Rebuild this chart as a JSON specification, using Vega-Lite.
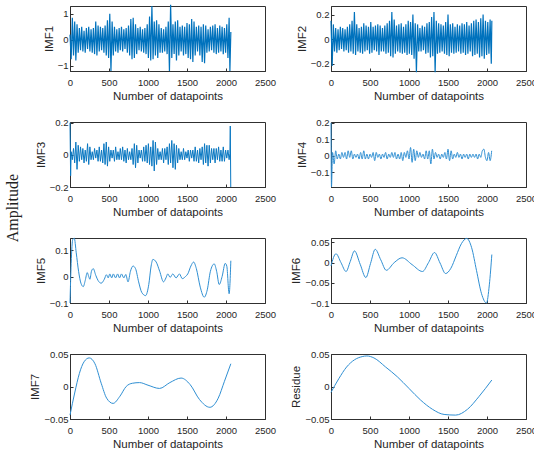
{
"$schema":"https://vega.github.io/schema/vega-lite/v6.json",
"padding":{"left":5,"top":1,"right":2,"bottom":2},
"title":{"text":"Amplitude","orient":"left","font":"Liberation Serif","fontSize":16,"fontWeight":"normal","color":"#222222","anchor":"middle","offset":8,"dx":18},
"config":{
 "view":{"stroke":"#303030","strokeWidth":1},
 "axis":{"labelFont":"Liberation Sans","labelFontSize":9.5,"labelColor":"#262626","titleFont":"Liberation Sans","titleFontSize":11.5,"titleFontWeight":"normal","titleColor":"#262626","grid":false,"domainColor":"#303030","tickColor":"#303030","tickSize":-3,"labelOverlap":false,"labelFlush":false},
 "axisX":{"labelPadding":9,"titlePadding":4},
 "axisY":{"labelPadding":5,"titlePadding":3},
 "line":{"strokeWidth":1,"clip":true}
},
"datasets":{
"d1":[{"x":0,"y":0.2},{"x":15,"y":-0.75},{"x":30,"y":0.85},{"x":45,"y":-0.6},{"x":60,"y":0.7},{"x":75,"y":-0.8},{"x":90,"y":0.6},{"x":105,"y":-0.5},{"x":120,"y":0.45},{"x":135,"y":-0.4},{"x":150,"y":0.5},{"x":165,"y":-0.45},{"x":180,"y":0.35},{"x":195,"y":-0.5},{"x":210,"y":0.45},{"x":225,"y":-0.35},{"x":240,"y":0.5},{"x":255,"y":-0.45},{"x":270,"y":0.4},{"x":285,"y":-0.5},{"x":300,"y":0.45},{"x":315,"y":-0.55},{"x":330,"y":0.7},{"x":345,"y":-0.6},{"x":360,"y":0.55},{"x":375,"y":-0.45},{"x":390,"y":0.5},{"x":405,"y":-0.4},{"x":420,"y":0.45},{"x":435,"y":-0.5},{"x":450,"y":0.55},{"x":465,"y":-0.6},{"x":480,"y":0.75},{"x":495,"y":-0.7},{"x":510,"y":1.0},{"x":525,"y":-1.2},{"x":540,"y":0.7},{"x":555,"y":-0.6},{"x":570,"y":0.5},{"x":585,"y":-0.45},{"x":600,"y":0.4},{"x":615,"y":-0.5},{"x":630,"y":0.45},{"x":645,"y":-0.4},{"x":660,"y":0.5},{"x":675,"y":-0.45},{"x":690,"y":0.4},{"x":705,"y":-0.35},{"x":720,"y":0.45},{"x":735,"y":-0.5},{"x":750,"y":0.55},{"x":765,"y":-0.6},{"x":780,"y":0.8},{"x":795,"y":-0.75},{"x":810,"y":0.85},{"x":825,"y":-0.7},{"x":840,"y":0.6},{"x":855,"y":-0.55},{"x":870,"y":0.45},{"x":885,"y":-0.4},{"x":900,"y":0.5},{"x":915,"y":-0.45},{"x":930,"y":0.4},{"x":945,"y":-0.5},{"x":960,"y":0.45},{"x":975,"y":-0.55},{"x":990,"y":0.6},{"x":1005,"y":-0.7},{"x":1020,"y":0.9},{"x":1035,"y":-0.8},{"x":1050,"y":1.3},{"x":1065,"y":-0.75},{"x":1080,"y":0.7},{"x":1095,"y":-0.6},{"x":1110,"y":0.75},{"x":1125,"y":-0.7},{"x":1140,"y":0.6},{"x":1155,"y":-0.5},{"x":1170,"y":0.45},{"x":1185,"y":-0.5},{"x":1200,"y":0.4},{"x":1215,"y":-0.45},{"x":1230,"y":0.5},{"x":1245,"y":-0.55},{"x":1260,"y":0.7},{"x":1275,"y":-1.2},{"x":1290,"y":1.35},{"x":1305,"y":-0.7},{"x":1320,"y":0.6},{"x":1335,"y":-0.55},{"x":1350,"y":0.7},{"x":1365,"y":-0.8},{"x":1380,"y":0.75},{"x":1395,"y":-0.6},{"x":1410,"y":0.5},{"x":1425,"y":-0.45},{"x":1440,"y":0.55},{"x":1455,"y":-0.6},{"x":1470,"y":0.5},{"x":1485,"y":-0.55},{"x":1500,"y":0.65},{"x":1515,"y":-0.7},{"x":1530,"y":0.6},{"x":1545,"y":-0.75},{"x":1560,"y":0.8},{"x":1575,"y":-0.85},{"x":1590,"y":0.7},{"x":1605,"y":-0.6},{"x":1620,"y":0.5},{"x":1635,"y":-0.45},{"x":1650,"y":0.55},{"x":1665,"y":-0.6},{"x":1680,"y":0.5},{"x":1695,"y":-0.85},{"x":1710,"y":0.6},{"x":1725,"y":-0.9},{"x":1740,"y":0.55},{"x":1755,"y":-0.5},{"x":1770,"y":0.4},{"x":1785,"y":-0.45},{"x":1800,"y":0.5},{"x":1815,"y":-0.4},{"x":1830,"y":0.55},{"x":1845,"y":-0.5},{"x":1860,"y":0.6},{"x":1875,"y":-0.55},{"x":1890,"y":0.45},{"x":1905,"y":-0.5},{"x":1920,"y":0.55},{"x":1935,"y":-0.45},{"x":1950,"y":0.5},{"x":1965,"y":-0.55},{"x":1980,"y":0.45},{"x":1995,"y":-0.5},{"x":2010,"y":0.6},{"x":2025,"y":-0.7},{"x":2040,"y":0.85},{"x":2050,"y":-1.2},{"x":2062,"y":0.3}],
"d2":[{"x":0,"y":0.15},{"x":15,"y":-0.22},{"x":30,"y":0.12},{"x":45,"y":-0.1},{"x":60,"y":0.09},{"x":75,"y":-0.11},{"x":90,"y":0.08},{"x":105,"y":-0.09},{"x":120,"y":0.1},{"x":135,"y":-0.08},{"x":150,"y":0.09},{"x":165,"y":-0.1},{"x":180,"y":0.08},{"x":195,"y":-0.09},{"x":210,"y":0.1},{"x":225,"y":-0.11},{"x":240,"y":0.12},{"x":255,"y":-0.1},{"x":270,"y":0.15},{"x":285,"y":-0.12},{"x":300,"y":0.22},{"x":315,"y":-0.13},{"x":330,"y":0.12},{"x":345,"y":-0.1},{"x":360,"y":0.09},{"x":375,"y":-0.11},{"x":390,"y":0.1},{"x":405,"y":-0.12},{"x":420,"y":0.13},{"x":435,"y":-0.1},{"x":450,"y":0.11},{"x":465,"y":-0.09},{"x":480,"y":0.1},{"x":495,"y":-0.12},{"x":510,"y":0.14},{"x":525,"y":-0.11},{"x":540,"y":0.1},{"x":555,"y":-0.09},{"x":570,"y":0.11},{"x":585,"y":-0.1},{"x":600,"y":0.12},{"x":615,"y":-0.13},{"x":630,"y":0.11},{"x":645,"y":-0.1},{"x":660,"y":0.09},{"x":675,"y":-0.1},{"x":690,"y":0.11},{"x":705,"y":-0.12},{"x":720,"y":0.13},{"x":735,"y":-0.11},{"x":750,"y":0.15},{"x":765,"y":-0.14},{"x":780,"y":0.22},{"x":795,"y":-0.15},{"x":810,"y":0.16},{"x":825,"y":-0.12},{"x":840,"y":0.11},{"x":855,"y":-0.1},{"x":870,"y":0.12},{"x":885,"y":-0.11},{"x":900,"y":0.13},{"x":915,"y":-0.12},{"x":930,"y":0.1},{"x":945,"y":-0.11},{"x":960,"y":0.12},{"x":975,"y":-0.13},{"x":990,"y":0.15},{"x":1005,"y":-0.12},{"x":1020,"y":0.14},{"x":1035,"y":-0.13},{"x":1050,"y":0.2},{"x":1065,"y":-0.16},{"x":1080,"y":0.13},{"x":1095,"y":-0.27},{"x":1110,"y":0.12},{"x":1125,"y":-0.1},{"x":1140,"y":0.09},{"x":1155,"y":-0.1},{"x":1170,"y":0.11},{"x":1185,"y":-0.09},{"x":1200,"y":0.1},{"x":1215,"y":-0.12},{"x":1230,"y":0.13},{"x":1245,"y":-0.11},{"x":1260,"y":0.14},{"x":1275,"y":-0.15},{"x":1290,"y":0.18},{"x":1305,"y":-0.14},{"x":1320,"y":0.22},{"x":1335,"y":-0.27},{"x":1350,"y":0.15},{"x":1365,"y":-0.12},{"x":1380,"y":0.13},{"x":1395,"y":-0.11},{"x":1410,"y":0.12},{"x":1425,"y":-0.1},{"x":1440,"y":0.11},{"x":1455,"y":-0.12},{"x":1470,"y":0.14},{"x":1485,"y":-0.13},{"x":1500,"y":0.2},{"x":1515,"y":-0.14},{"x":1530,"y":0.12},{"x":1545,"y":-0.11},{"x":1560,"y":0.13},{"x":1575,"y":-0.12},{"x":1590,"y":0.1},{"x":1605,"y":-0.11},{"x":1620,"y":0.12},{"x":1635,"y":-0.1},{"x":1650,"y":0.11},{"x":1665,"y":-0.12},{"x":1680,"y":0.13},{"x":1695,"y":-0.11},{"x":1710,"y":0.12},{"x":1725,"y":-0.13},{"x":1740,"y":0.14},{"x":1755,"y":-0.12},{"x":1770,"y":0.11},{"x":1785,"y":-0.1},{"x":1800,"y":0.13},{"x":1815,"y":-0.14},{"x":1830,"y":0.15},{"x":1845,"y":-0.13},{"x":1860,"y":0.16},{"x":1875,"y":-0.12},{"x":1890,"y":0.14},{"x":1905,"y":-0.15},{"x":1920,"y":0.17},{"x":1935,"y":-0.14},{"x":1950,"y":0.2},{"x":1965,"y":-0.16},{"x":1980,"y":0.15},{"x":1995,"y":-0.13},{"x":2010,"y":0.14},{"x":2025,"y":-0.12},{"x":2040,"y":0.16},{"x":2055,"y":-0.2},{"x":2062,"y":0.15}],
"d3":[{"x":0,"y":0.2},{"x":8,"y":-0.13},{"x":15,"y":0.02},{"x":30,"y":-0.03},{"x":45,"y":0.04},{"x":60,"y":-0.05},{"x":75,"y":0.08},{"x":90,"y":-0.09},{"x":105,"y":0.06},{"x":120,"y":-0.04},{"x":135,"y":0.05},{"x":150,"y":-0.03},{"x":165,"y":0.04},{"x":180,"y":-0.05},{"x":195,"y":0.03},{"x":210,"y":-0.04},{"x":225,"y":0.07},{"x":240,"y":-0.06},{"x":255,"y":0.05},{"x":270,"y":-0.03},{"x":285,"y":0.02},{"x":300,"y":-0.03},{"x":315,"y":0.04},{"x":330,"y":-0.02},{"x":345,"y":0.03},{"x":360,"y":-0.04},{"x":375,"y":0.05},{"x":390,"y":-0.04},{"x":405,"y":0.03},{"x":420,"y":-0.05},{"x":435,"y":0.07},{"x":450,"y":-0.06},{"x":465,"y":0.08},{"x":480,"y":-0.07},{"x":495,"y":0.05},{"x":510,"y":-0.04},{"x":525,"y":0.03},{"x":540,"y":-0.02},{"x":555,"y":0.03},{"x":570,"y":-0.04},{"x":585,"y":0.05},{"x":600,"y":-0.03},{"x":615,"y":0.02},{"x":630,"y":-0.03},{"x":645,"y":0.04},{"x":660,"y":-0.03},{"x":675,"y":0.05},{"x":690,"y":-0.04},{"x":705,"y":0.03},{"x":720,"y":-0.05},{"x":735,"y":0.04},{"x":750,"y":-0.03},{"x":765,"y":0.02},{"x":780,"y":-0.03},{"x":795,"y":0.04},{"x":810,"y":-0.06},{"x":825,"y":0.07},{"x":840,"y":-0.08},{"x":855,"y":0.06},{"x":870,"y":-0.05},{"x":885,"y":0.03},{"x":900,"y":-0.02},{"x":915,"y":0.03},{"x":930,"y":-0.04},{"x":945,"y":0.05},{"x":960,"y":-0.04},{"x":975,"y":0.06},{"x":990,"y":-0.05},{"x":1005,"y":0.07},{"x":1020,"y":-0.06},{"x":1035,"y":0.05},{"x":1050,"y":-0.07},{"x":1065,"y":0.09},{"x":1080,"y":-0.1},{"x":1095,"y":0.08},{"x":1110,"y":-0.06},{"x":1125,"y":0.04},{"x":1140,"y":-0.03},{"x":1155,"y":0.02},{"x":1170,"y":-0.03},{"x":1185,"y":0.04},{"x":1200,"y":-0.05},{"x":1215,"y":0.04},{"x":1230,"y":-0.03},{"x":1245,"y":0.05},{"x":1260,"y":-0.06},{"x":1275,"y":0.07},{"x":1290,"y":-0.05},{"x":1305,"y":0.09},{"x":1320,"y":-0.08},{"x":1335,"y":0.07},{"x":1350,"y":-0.09},{"x":1365,"y":0.06},{"x":1380,"y":-0.05},{"x":1395,"y":0.04},{"x":1410,"y":-0.03},{"x":1425,"y":0.02},{"x":1440,"y":-0.03},{"x":1455,"y":0.04},{"x":1470,"y":-0.03},{"x":1485,"y":0.02},{"x":1500,"y":-0.02},{"x":1515,"y":0.03},{"x":1530,"y":-0.04},{"x":1545,"y":0.03},{"x":1560,"y":-0.02},{"x":1575,"y":0.03},{"x":1590,"y":-0.04},{"x":1605,"y":0.05},{"x":1620,"y":-0.04},{"x":1635,"y":0.03},{"x":1650,"y":-0.05},{"x":1665,"y":0.04},{"x":1680,"y":-0.03},{"x":1695,"y":0.05},{"x":1710,"y":-0.06},{"x":1725,"y":0.07},{"x":1740,"y":-0.05},{"x":1755,"y":0.06},{"x":1770,"y":-0.07},{"x":1785,"y":0.06},{"x":1800,"y":-0.05},{"x":1815,"y":0.04},{"x":1830,"y":-0.03},{"x":1845,"y":0.04},{"x":1860,"y":-0.05},{"x":1875,"y":0.04},{"x":1890,"y":-0.03},{"x":1905,"y":0.05},{"x":1920,"y":-0.04},{"x":1935,"y":0.03},{"x":1950,"y":-0.04},{"x":1965,"y":0.05},{"x":1980,"y":-0.04},{"x":1995,"y":0.03},{"x":2010,"y":-0.02},{"x":2025,"y":0.03},{"x":2040,"y":-0.03},{"x":2050,"y":0.01},{"x":2055,"y":0.18},{"x":2061,"y":-0.2}],
"d4":[{"x":0,"y":0.2},{"x":6,"y":-0.19},{"x":20,"y":0.02},{"x":40,"y":-0.05},{"x":60,"y":0.03},{"x":80,"y":-0.02},{"x":100,"y":0.01},{"x":120,"y":-0.02},{"x":140,"y":0.02},{"x":160,"y":-0.01},{"x":180,"y":0.02},{"x":200,"y":-0.02},{"x":220,"y":0.03},{"x":240,"y":-0.01},{"x":260,"y":0.03},{"x":280,"y":-0.02},{"x":300,"y":0.01},{"x":320,"y":-0.01},{"x":340,"y":0.01},{"x":360,"y":-0.02},{"x":380,"y":0.02},{"x":400,"y":-0.02},{"x":420,"y":0.03},{"x":440,"y":-0.02},{"x":460,"y":0.01},{"x":480,"y":-0.02},{"x":500,"y":0.01},{"x":520,"y":-0.01},{"x":540,"y":0.02},{"x":560,"y":-0.03},{"x":580,"y":0.02},{"x":600,"y":-0.01},{"x":620,"y":0.01},{"x":640,"y":-0.02},{"x":660,"y":0.01},{"x":680,"y":-0.01},{"x":700,"y":0.02},{"x":720,"y":-0.02},{"x":740,"y":0.01},{"x":760,"y":-0.01},{"x":780,"y":0.02},{"x":800,"y":-0.01},{"x":820,"y":0.02},{"x":840,"y":-0.02},{"x":860,"y":0.01},{"x":880,"y":-0.02},{"x":900,"y":0.02},{"x":920,"y":-0.03},{"x":940,"y":0.02},{"x":960,"y":-0.01},{"x":980,"y":0.03},{"x":1000,"y":-0.02},{"x":1020,"y":0.05},{"x":1040,"y":-0.04},{"x":1060,"y":0.04},{"x":1080,"y":-0.03},{"x":1100,"y":0.03},{"x":1120,"y":-0.01},{"x":1140,"y":0.02},{"x":1160,"y":-0.01},{"x":1180,"y":0.01},{"x":1200,"y":-0.02},{"x":1220,"y":0.03},{"x":1240,"y":-0.02},{"x":1260,"y":0.03},{"x":1280,"y":-0.05},{"x":1300,"y":0.04},{"x":1320,"y":-0.02},{"x":1340,"y":0.02},{"x":1360,"y":-0.01},{"x":1380,"y":0.01},{"x":1400,"y":-0.02},{"x":1420,"y":0.01},{"x":1440,"y":-0.01},{"x":1460,"y":0.02},{"x":1480,"y":-0.02},{"x":1500,"y":0.04},{"x":1520,"y":-0.03},{"x":1540,"y":0.03},{"x":1560,"y":-0.02},{"x":1580,"y":0.01},{"x":1600,"y":-0.01},{"x":1620,"y":0.02},{"x":1640,"y":-0.01},{"x":1660,"y":0.01},{"x":1680,"y":-0.02},{"x":1700,"y":0.01},{"x":1720,"y":-0.01},{"x":1740,"y":0.01},{"x":1760,"y":-0.02},{"x":1780,"y":0.01},{"x":1800,"y":-0.01},{"x":1820,"y":0.01},{"x":1840,"y":-0.01},{"x":1860,"y":0.01},{"x":1880,"y":-0.02},{"x":1900,"y":0.01},{"x":1920,"y":-0.01},{"x":1940,"y":0.03},{"x":1960,"y":0.04},{"x":1980,"y":-0.01},{"x":2000,"y":-0.03},{"x":2020,"y":0.02},{"x":2040,"y":-0.03},{"x":2060,"y":0.03}],
"d5":[{"x":0,"y":-0.1},{"x":15,"y":0.05},{"x":35,"y":0.14},{"x":55,"y":0.145},{"x":80,"y":0.09},{"x":110,"y":0.02},{"x":140,"y":-0.025},{"x":170,"y":-0.038},{"x":195,"y":-0.015},{"x":221,"y":0.015},{"x":240,"y":0.0},{"x":255,"y":-0.01},{"x":275,"y":0.02},{"x":298,"y":0.03},{"x":330,"y":0.005},{"x":360,"y":-0.015},{"x":400,"y":-0.025},{"x":440,"y":-0.01},{"x":467,"y":0.007},{"x":490,"y":-0.005},{"x":510,"y":0.01},{"x":535,"y":-0.005},{"x":555,"y":0.01},{"x":585,"y":-0.005},{"x":610,"y":0.01},{"x":635,"y":-0.005},{"x":660,"y":0.01},{"x":690,"y":-0.005},{"x":715,"y":0.008},{"x":744,"y":-0.02},{"x":775,"y":0.02},{"x":808,"y":0.04},{"x":840,"y":0.03},{"x":880,"y":-0.02},{"x":920,"y":-0.06},{"x":969,"y":-0.072},{"x":1010,"y":-0.03},{"x":1040,"y":0.04},{"x":1063,"y":0.065},{"x":1105,"y":0.055},{"x":1150,"y":0.02},{"x":1199,"y":-0.02},{"x":1230,"y":-0.005},{"x":1254,"y":0.01},{"x":1284,"y":-0.003},{"x":1318,"y":0.01},{"x":1360,"y":-0.005},{"x":1403,"y":0.01},{"x":1440,"y":-0.008},{"x":1480,"y":0.0},{"x":1510,"y":0.01},{"x":1550,"y":0.04},{"x":1585,"y":0.055},{"x":1620,"y":0.03},{"x":1670,"y":-0.04},{"x":1721,"y":-0.078},{"x":1760,"y":-0.05},{"x":1800,"y":0.02},{"x":1849,"y":0.048},{"x":1880,"y":0.02},{"x":1913,"y":-0.03},{"x":1950,"y":0.0},{"x":1990,"y":0.05},{"x":2010,"y":0.04},{"x":2040,"y":-0.065},{"x":2062,"y":0.06}],
"d6":[{"x":0,"y":-0.008},{"x":64,"y":0.022},{"x":128,"y":0.0},{"x":193,"y":-0.022},{"x":247,"y":0.003},{"x":301,"y":0.029},{"x":374,"y":-0.004},{"x":447,"y":-0.037},{"x":507,"y":-0.002},{"x":567,"y":0.033},{"x":638,"y":0.007},{"x":709,"y":-0.019},{"x":810,"y":0.0},{"x":911,"y":0.012},{"x":1040,"y":-0.005},{"x":1173,"y":-0.022},{"x":1250,"y":0.0},{"x":1327,"y":0.025},{"x":1398,"y":-0.001},{"x":1469,"y":-0.027},{"x":1537,"y":-0.014},{"x":1605,"y":0.017},{"x":1672,"y":0.047},{"x":1740,"y":0.06},{"x":1803,"y":0.037},{"x":1866,"y":-0.02},{"x":1930,"y":-0.077},{"x":1993,"y":-0.1},{"x":2030,"y":-0.055},{"x":2062,"y":0.02}],
"d7":[{"x":0,"y":-0.044},{"x":60,"y":-0.01},{"x":120,"y":0.02},{"x":180,"y":0.038},{"x":246,"y":0.044},{"x":320,"y":0.035},{"x":400,"y":0.005},{"x":470,"y":-0.018},{"x":552,"y":-0.026},{"x":640,"y":-0.015},{"x":720,"y":0.0},{"x":800,"y":0.005},{"x":892,"y":0.006},{"x":1000,"y":0.002},{"x":1148,"y":-0.003},{"x":1280,"y":0.006},{"x":1424,"y":0.013},{"x":1540,"y":0.003},{"x":1660,"y":-0.02},{"x":1793,"y":-0.032},{"x":1900,"y":-0.018},{"x":1980,"y":0.008},{"x":2062,"y":0.035}],
"d8":[{"x":0,"y":-0.009},{"x":100,"y":0.012},{"x":200,"y":0.03},{"x":300,"y":0.041},{"x":400,"y":0.046},{"x":460,"y":0.047},{"x":550,"y":0.044},{"x":700,"y":0.03},{"x":850,"y":0.015},{"x":1000,"y":-0.003},{"x":1150,"y":-0.021},{"x":1300,"y":-0.035},{"x":1450,"y":-0.043},{"x":1598,"y":-0.044},{"x":1750,"y":-0.035},{"x":1900,"y":-0.015},{"x":2062,"y":0.01}]
},
"columns":2,
"spacing":{"row":51,"column":66},
"bounds":"flush",
"concat":[
{"width":195,"height":65,"data":{"name":"d1"},"mark":{"type":"line","color":"#0072BD","strokeWidth":1.2},
 "encoding":{"x":{"field":"x","type":"quantitative","scale":{"domain":[0,2500],"nice":false},"axis":{"title":"Number of datapoints","values":[0,500,1000,1500,2000,2500],"format":"d"}},
 "y":{"field":"y","type":"quantitative","scale":{"domain":[-1.2,1.3],"nice":false,"zero":false},"axis":{"title":"IMF1","values":[-1,0,1],"format":"~g"}}}},
{"width":195,"height":65,"data":{"name":"d2"},"mark":{"type":"line","color":"#0072BD","strokeWidth":1.2},
 "encoding":{"x":{"field":"x","type":"quantitative","scale":{"domain":[0,2500],"nice":false},"axis":{"title":"Number of datapoints","values":[0,500,1000,1500,2000,2500],"format":"d"}},
 "y":{"field":"y","type":"quantitative","scale":{"domain":[-0.26,0.27],"nice":false,"zero":false},"axis":{"title":"IMF2","values":[-0.2,0,0.2],"format":"~g"}}}},
{"width":195,"height":65,"data":{"name":"d3"},"mark":{"type":"line","color":"#0a78c2"},
 "encoding":{"x":{"field":"x","type":"quantitative","scale":{"domain":[0,2500],"nice":false},"axis":{"title":"Number of datapoints","values":[0,500,1000,1500,2000,2500],"format":"d"}},
 "y":{"field":"y","type":"quantitative","scale":{"domain":[-0.2,0.205],"nice":false,"zero":false},"axis":{"title":"IMF3","values":[-0.2,0,0.2],"format":"~g"}}}},
{"width":195,"height":65,"data":{"name":"d4"},"mark":{"type":"line","color":"#2f8fd3","interpolate":"monotone"},
 "encoding":{"x":{"field":"x","type":"quantitative","scale":{"domain":[0,2500],"nice":false},"axis":{"title":"Number of datapoints","values":[0,500,1000,1500,2000,2500],"format":"d"}},
 "y":{"field":"y","type":"quantitative","scale":{"domain":[-0.19,0.205],"nice":false,"zero":false},"axis":{"title":"IMF4","values":[-0.1,0,0.1,0.2],"format":"~g"}}}},
{"width":195,"height":65,"data":{"name":"d5"},"mark":{"type":"line","color":"#2f8fd3","interpolate":"monotone"},
 "encoding":{"x":{"field":"x","type":"quantitative","scale":{"domain":[0,2500],"nice":false},"axis":{"title":"Number of datapoints","values":[0,500,1000,1500,2000,2500],"format":"d"}},
 "y":{"field":"y","type":"quantitative","scale":{"domain":[-0.1,0.146],"nice":false,"zero":false},"axis":{"title":"IMF5","values":[-0.1,0,0.1],"format":"~g"}}}},
{"width":195,"height":65,"data":{"name":"d6"},"mark":{"type":"line","color":"#2f8fd3","interpolate":"monotone"},
 "encoding":{"x":{"field":"x","type":"quantitative","scale":{"domain":[0,2500],"nice":false},"axis":{"title":"Number of datapoints","values":[0,500,1000,1500,2000,2500],"format":"d"}},
 "y":{"field":"y","type":"quantitative","scale":{"domain":[-0.1,0.061],"nice":false,"zero":false},"axis":{"title":"IMF6","values":[-0.1,-0.05,0,0.05],"format":"~g"}}}},
{"width":195,"height":65,"data":{"name":"d7"},"mark":{"type":"line","color":"#2f8fd3","interpolate":"monotone"},
 "encoding":{"x":{"field":"x","type":"quantitative","scale":{"domain":[0,2500],"nice":false},"axis":{"title":"Number of datapoints","values":[0,500,1000,1500,2000,2500],"format":"d"}},
 "y":{"field":"y","type":"quantitative","scale":{"domain":[-0.05,0.05],"nice":false,"zero":false},"axis":{"title":"IMF7","values":[-0.05,0,0.05],"format":"~g"}}}},
{"width":195,"height":65,"data":{"name":"d8"},"mark":{"type":"line","color":"#2f8fd3","interpolate":"monotone"},
 "encoding":{"x":{"field":"x","type":"quantitative","scale":{"domain":[0,2500],"nice":false},"axis":{"title":"Number of datapoints","values":[0,500,1000,1500,2000,2500],"format":"d"}},
 "y":{"field":"y","type":"quantitative","scale":{"domain":[-0.05,0.05],"nice":false,"zero":false},"axis":{"title":"Residue","values":[-0.05,0,0.05],"format":"~g"}}}}
]
}
